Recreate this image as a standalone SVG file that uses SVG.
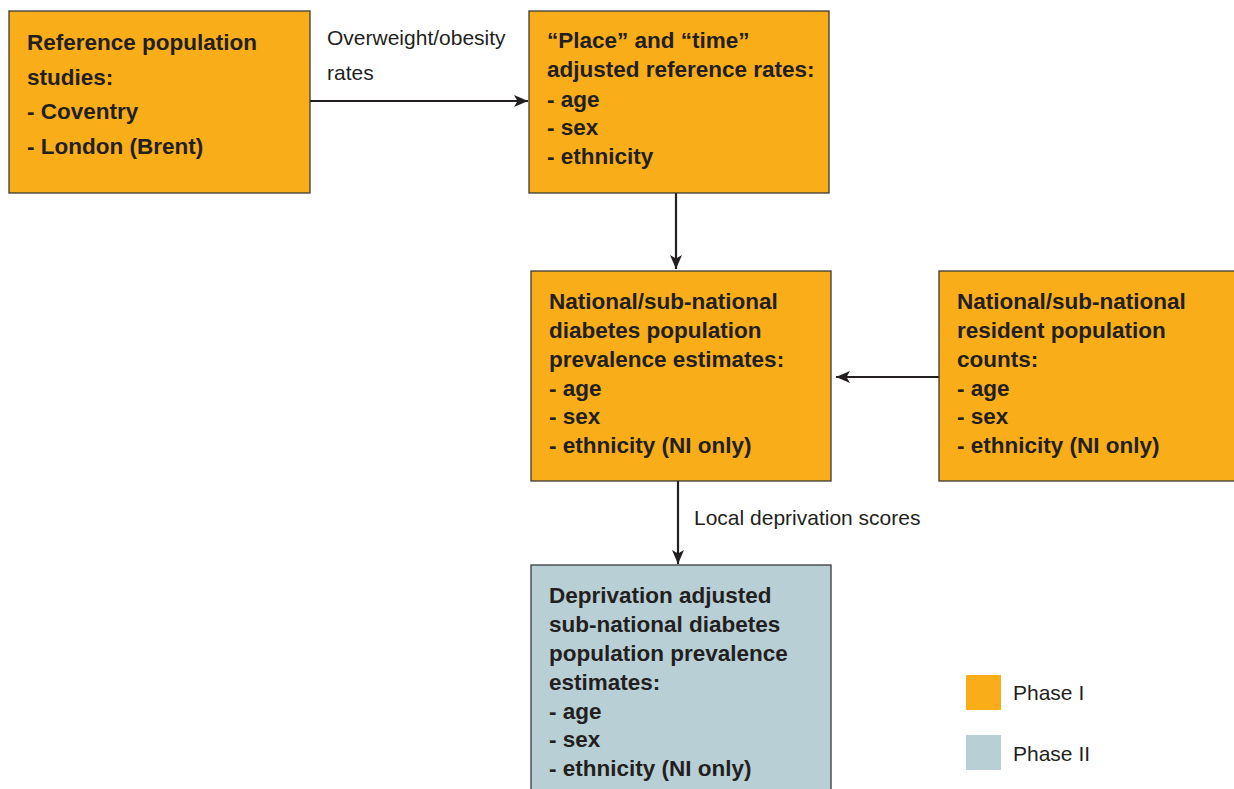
<svg xmlns="http://www.w3.org/2000/svg" width="1234" height="789" viewBox="0 0 1234 789">
<style>
.p1{fill:#F9AE19;stroke:#3a3a3a;stroke-width:1.3}
.p2{fill:#B9CFD6;stroke:#3a3a3a;stroke-width:1.3}
.t{font-family:"Liberation Sans",Arial,sans-serif;font-weight:bold;font-size:22.5px;fill:#231f20}
.l{font-family:"Liberation Sans",Arial,sans-serif;font-size:21px;fill:#231f20}
.c{stroke:#231f20;stroke-width:2.2;fill:none;marker-end:url(#ah)}
</style>
<defs>
<marker id="ah" viewBox="0 0 14 12" refX="14" refY="6" markerWidth="14" markerHeight="12" markerUnits="userSpaceOnUse" orient="auto">
<path d="M0,0 L14,6 L0,12 L3.5,6 Z" fill="#231f20"/>
</marker>
</defs>
<rect width="1234" height="789" fill="#fff"/>
<g id="connectors">
<line class="c" x1="310" y1="101" x2="528" y2="101"/>
<line class="c" x1="676" y1="193" x2="676" y2="269"/>
<line class="c" x1="939" y1="377" x2="836" y2="377"/>
<line class="c" x1="678" y1="481" x2="678" y2="564"/>
<text class="l" x="327" y="45">Overweight/obesity</text>
<text class="l" x="327" y="80">rates</text>
<text class="l" x="694" y="525">Local deprivation scores</text>
</g>
<g id="n1">
<rect class="p1" x="9" y="11" width="301" height="182"/>
<text class="t" x="27" y="50">Reference population</text>
<text class="t" x="27" y="85">studies:</text>
<text class="t" x="27" y="119">- Coventry</text>
<text class="t" x="27" y="154">- London (Brent)</text>
</g>
<g id="n2">
<rect class="p1" x="529" y="11" width="300" height="182"/>
<text class="t" x="547" y="48">“Place” and “time”</text>
<text class="t" x="547" y="77">adjusted reference rates:</text>
<text class="t" x="547" y="107">- age</text>
<text class="t" x="547" y="135">- sex</text>
<text class="t" x="547" y="164">- ethnicity</text>
</g>
<g id="n3">
<rect class="p1" x="531" y="271" width="300" height="210"/>
<text class="t" x="549" y="309">National/sub-national</text>
<text class="t" x="549" y="338">diabetes population</text>
<text class="t" x="549" y="367">prevalence estimates:</text>
<text class="t" x="549" y="396">- age</text>
<text class="t" x="549" y="424">- sex</text>
<text class="t" x="549" y="453">- ethnicity (NI only)</text>
</g>
<g id="n4">
<rect class="p1" x="939" y="271" width="300" height="210"/>
<text class="t" x="957" y="309">National/sub-national</text>
<text class="t" x="957" y="338">resident population</text>
<text class="t" x="957" y="367">counts:</text>
<text class="t" x="957" y="396">- age</text>
<text class="t" x="957" y="424">- sex</text>
<text class="t" x="957" y="453">- ethnicity (NI only)</text>
</g>
<g id="n5">
<rect class="p2" x="531" y="565" width="300" height="240"/>
<text class="t" x="549" y="603">Deprivation adjusted</text>
<text class="t" x="549" y="632">sub-national diabetes</text>
<text class="t" x="549" y="661">population prevalence</text>
<text class="t" x="549" y="690">estimates:</text>
<text class="t" x="549" y="719">- age</text>
<text class="t" x="549" y="747">- sex</text>
<text class="t" x="549" y="776">- ethnicity (NI only)</text>
</g>
<g id="legend">
<rect x="966" y="675" width="35" height="35" fill="#F9AE19"/>
<text class="l" x="1013" y="700">Phase I</text>
<rect x="966" y="735" width="35" height="35" fill="#B9CFD6"/>
<text class="l" x="1013" y="761">Phase II</text>
</g>
</svg>
